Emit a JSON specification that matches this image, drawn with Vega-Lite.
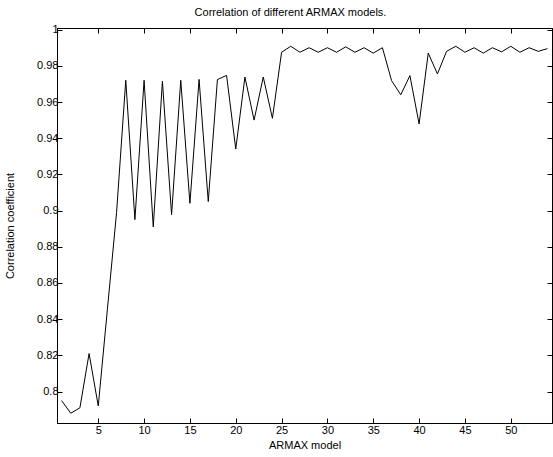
{
  "$schema": "https://vega.github.io/schema/vega-lite/v6.json",
  "autosize": {"type": "none"},
  "width": 495,
  "height": 395,
  "padding": {"left": 57, "top": 28, "right": 1, "bottom": 34},
  "background": "white",
  "title": {
    "text": "Correlation of different ARMAX models.",
    "font": "Liberation Sans",
    "fontSize": 11,
    "fontWeight": "normal",
    "color": "black",
    "anchor": "middle",
    "offset": 6,
    "dx": -14
  },
  "config": {
    "view": {"stroke": "black", "strokeWidth": 1},
    "axis": {
      "domainColor": "black",
      "tickColor": "black",
      "labelColor": "black",
      "titleColor": "black",
      "labelFont": "Liberation Sans",
      "titleFont": "Liberation Sans",
      "labelFontSize": 11,
      "titleFontSize": 11,
      "titleFontWeight": "normal",
      "grid": false,
      "tickSize": -5
    }
  },
  "data": {
    "values": [
      {"model": 1, "corr": 0.795},
      {"model": 2, "corr": 0.788},
      {"model": 3, "corr": 0.791},
      {"model": 4, "corr": 0.821},
      {"model": 5, "corr": 0.792},
      {"model": 6, "corr": 0.8455},
      {"model": 7, "corr": 0.899},
      {"model": 8, "corr": 0.972},
      {"model": 9, "corr": 0.895},
      {"model": 10, "corr": 0.972},
      {"model": 11, "corr": 0.891},
      {"model": 12, "corr": 0.9715},
      {"model": 13, "corr": 0.8977},
      {"model": 14, "corr": 0.972},
      {"model": 15, "corr": 0.904},
      {"model": 16, "corr": 0.9725},
      {"model": 17, "corr": 0.905},
      {"model": 18, "corr": 0.9724},
      {"model": 19, "corr": 0.9747},
      {"model": 20, "corr": 0.934},
      {"model": 21, "corr": 0.9738},
      {"model": 22, "corr": 0.95},
      {"model": 23, "corr": 0.9738},
      {"model": 24, "corr": 0.951},
      {"model": 25, "corr": 0.9875},
      {"model": 26, "corr": 0.9908},
      {"model": 27, "corr": 0.9875},
      {"model": 28, "corr": 0.99},
      {"model": 29, "corr": 0.9875},
      {"model": 30, "corr": 0.99},
      {"model": 31, "corr": 0.9875},
      {"model": 32, "corr": 0.9905},
      {"model": 33, "corr": 0.9875},
      {"model": 34, "corr": 0.99},
      {"model": 35, "corr": 0.987},
      {"model": 36, "corr": 0.99},
      {"model": 37, "corr": 0.9718},
      {"model": 38, "corr": 0.964},
      {"model": 39, "corr": 0.9746},
      {"model": 40, "corr": 0.9479},
      {"model": 41, "corr": 0.987},
      {"model": 42, "corr": 0.9755},
      {"model": 43, "corr": 0.988},
      {"model": 44, "corr": 0.9908},
      {"model": 45, "corr": 0.9875},
      {"model": 46, "corr": 0.99},
      {"model": 47, "corr": 0.987},
      {"model": 48, "corr": 0.99},
      {"model": 49, "corr": 0.9877},
      {"model": 50, "corr": 0.9908},
      {"model": 51, "corr": 0.9875},
      {"model": 52, "corr": 0.99},
      {"model": 53, "corr": 0.988},
      {"model": 54, "corr": 0.9895}
    ]
  },
  "layer": [
    {
      "mark": {"type": "line", "color": "black", "strokeWidth": 1, "clip": true},
      "encoding": {
        "x": {
          "field": "model",
          "type": "quantitative",
          "scale": {"domain": [0.5, 54.5], "nice": false, "zero": false},
          "axis": {
            "orient": "bottom",
            "values": [5, 10, 15, 20, 25, 30, 35, 40, 45, 50],
            "title": "ARMAX model",
            "labelPadding": 6,
            "titlePadding": 4
          }
        },
        "y": {
          "field": "corr",
          "type": "quantitative",
          "scale": {"domain": [0.7826, 1.0009], "nice": false, "zero": false},
          "axis": {
            "orient": "left",
            "values": [0.8, 0.82, 0.84, 0.86, 0.88, 0.9, 0.92, 0.94, 0.96, 0.98, 1],
            "format": ".2~f",
            "title": "Correlation coefficient",
            "labelPadding": 4,
            "titleX": -47,
            "titleBaseline": "middle"
          }
        }
      }
    },
    {
      "mark": {"type": "line", "opacity": 0},
      "encoding": {
        "x": {
          "field": "model",
          "type": "quantitative",
          "axis": {
            "orient": "top",
            "values": [5, 10, 15, 20, 25, 30, 35, 40, 45, 50],
            "labels": false,
            "title": null
          }
        },
        "y": {
          "field": "corr",
          "type": "quantitative",
          "axis": {
            "orient": "right",
            "values": [0.8, 0.82, 0.84, 0.86, 0.88, 0.9, 0.92, 0.94, 0.96, 0.98, 1],
            "labels": false,
            "title": null
          }
        }
      }
    }
  ],
  "resolve": {"axis": {"x": "independent", "y": "independent"}}
}
